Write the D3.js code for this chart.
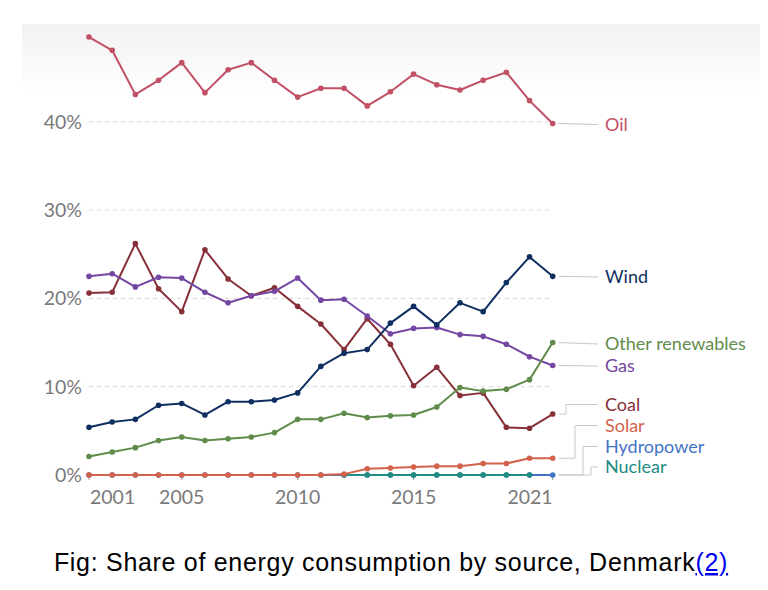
<!DOCTYPE html>
<html>
<head>
<meta charset="utf-8">
<script src="https://cdn.jsdelivr.net/npm/d3@7/dist/d3.min.js"></script>
<style>
  html, body { margin: 0; padding: 0; background: #fff; }
  svg { display: block; }
</style>
</head>
<body>
<svg id="chart" width="768" height="590"></svg>
<script>
const years = d3.range(2001, 2022);
const oil =   [49.6, 48.1, 43.1, 44.7, 46.7, 43.3, 45.9, 46.7, 44.7, 42.8, 43.8, 43.8, 41.8, 43.4, 45.4, 44.2, 43.6, 44.7, 45.6, 42.4, 39.8];
const wind =  [5.4, 6.0, 6.3, 7.9, 8.1, 6.8, 8.3, 8.3, 8.5, 9.3, 12.3, 13.8, 14.2, 17.2, 19.1, 17.0, 19.5, 18.5, 21.8, 24.7, 22.5];
const otherRenewables = [2.1, 2.6, 3.1, 3.9, 4.3, 3.9, 4.1, 4.3, 4.8, 6.3, 6.3, 7.0, 6.5, 6.7, 6.8, 7.7, 9.9, 9.5, 9.7, 10.8, 15.0];
const gas =   [22.5, 22.8, 21.3, 22.4, 22.3, 20.7, 19.5, 20.3, 20.8, 22.3, 19.8, 19.9, 18.0, 16.0, 16.6, 16.7, 15.9, 15.7, 14.8, 13.4, 12.4];
const coal =  [20.6, 20.7, 26.2, 21.1, 18.5, 25.5, 22.2, 20.3, 21.2, 19.1, 17.1, 14.2, 17.7, 14.8, 10.1, 12.2, 9.0, 9.3, 5.4, 5.3, 6.9];
const solar = [0, 0, 0, 0, 0, 0, 0, 0, 0, 0, 0, 0.1, 0.7, 0.8, 0.9, 1.0, 1.0, 1.3, 1.3, 1.9, 1.9];
const hydropower = [0, 0, 0, 0, 0, 0, 0, 0, 0, 0, 0, 0, 0, 0, 0, 0, 0, 0, 0, 0, 0];
const nuclear = [null, null, null, null, null, null, null, null, null, null, null, 0, 0, 0, 0, 0, 0, 0, 0, 0, null];

const yTicks = [0, 10, 20, 30, 40];
const xTicks = [2001, 2005, 2010, 2015, 2021];
const caption = "Fig: Share of energy consumption by source, Denmark";
const captionLink = "(2)";

// series: name, values, colour, label y (legend), connector step x
const series = [
  {name: "Hydropower", values: hydropower, color: "#3f74c6", labelY: 446.5, stepX: 583},
  {name: "Nuclear", values: nuclear, color: "#218c82", labelY: 467, stepX: 591},
  {name: "Solar", values: solar, color: "#d3624b", labelY: 425.5, stepX: 575},
  {name: "Coal", values: coal, color: "#883039", labelY: 404.5, stepX: 566},
  {name: "Gas", values: gas, color: "#7447a3", labelY: 366, stepX: null},
  {name: "Other renewables", values: otherRenewables, color: "#5f8c4a", labelY: 344, stepX: null},
  {name: "Wind", values: wind, color: "#0e2f60", labelY: 277, stepX: null},
  {name: "Oil", values: oil, color: "#c15065", labelY: 124.5, stepX: null}
];

const svg = d3.select("#chart");
const x = d3.scaleLinear().domain([2001, 2021]).range([89, 552.7]);
const y = d3.scaleLinear().domain([0, 50]).range([475, 33.5]);

// background gradient band
const defs = svg.append("defs");
const grad = defs.append("linearGradient").attr("id", "bg").attr("x1", 0).attr("y1", 0).attr("x2", 0).attr("y2", 1);
grad.append("stop").attr("offset", "0%").attr("stop-color", "#f2f2f2");
grad.append("stop").attr("offset", "100%").attr("stop-color", "#ffffff");
svg.append("rect").attr("x", 22).attr("y", 24).attr("width", 738).attr("height", 70).attr("fill", "url(#bg)");

// gridlines
svg.append("g").selectAll("line").data(yTicks.filter(d => d > 0)).join("line")
  .attr("x1", x(2001)).attr("x2", x(2021))
  .attr("y1", d => y(d)).attr("y2", d => y(d))
  .attr("stroke", "#d9d9d9").attr("stroke-width", 1).attr("stroke-dasharray", "4,4");

// baseline
svg.append("line").attr("x1", x(2001)).attr("x2", x(2021)).attr("y1", y(0)).attr("y2", y(0))
  .attr("stroke", "#bbb").attr("stroke-width", 1);

// y labels
svg.append("g").selectAll("text").data(yTicks).join("text")
  .attr("x", 82).attr("y", d => y(d)).attr("dy", "0.36em")
  .attr("text-anchor", "end")
  .attr("font-family", "Lato, sans-serif").attr("font-size", 19.5).attr("fill", "#7a7a7a")
  .text(d => d + "%");

// x ticks
svg.append("g").selectAll("line").data(xTicks).join("line")
  .attr("x1", d => x(d)).attr("x2", d => x(d)).attr("y1", y(0)).attr("y2", y(0) + 5)
  .attr("stroke", "#999").attr("stroke-width", 1);
svg.append("g").selectAll("text").data(xTicks).join("text")
  .attr("x", d => x(d) + (d === 2001 ? 1 : 0)).attr("y", 504)
  .attr("text-anchor", d => d === 2001 ? "start" : (d === 2021 ? "end" : "middle"))
  .attr("font-family", "Lato, sans-serif").attr("font-size", 19.5).attr("fill", "#7a7a7a")
  .text(d => d);

// lines
const line = d3.line().defined(d => d.v !== null).x(d => x(d.year)).y(d => y(d.v));
series.forEach(s => {
  const pts = years.map((yr, i) => ({year: yr, v: s.values[i]}));
  const g = svg.append("g");
  g.append("path").attr("d", line(pts)).attr("fill", "none")
    .attr("stroke", s.color).attr("stroke-width", 2).attr("stroke-linejoin", "round");
  g.selectAll("circle").data(pts.filter(d => d.v !== null)).join("circle")
    .attr("cx", d => x(d.year)).attr("cy", d => y(d.v)).attr("r", 2.8).attr("fill", s.color);
});

// legend labels + connectors
const labelX = 605;
series.forEach(s => {
  let lastIdx = s.values.length - 1;
  while (s.values[lastIdx] === null) lastIdx--;
  const ex = x(years[lastIdx]) + 6;
  const ey = y(s.values[lastIdx]);
  let pathD;
  if (s.stepX) {
    pathD = `M${x(2021) + 6},${ey}H${s.stepX}V${s.labelY}H${labelX - 7}`;
  } else {
    pathD = `M${ex},${ey}L${labelX - 7},${s.labelY}`;
  }
  svg.append("path").attr("d", pathD).attr("fill", "none").attr("stroke", "#c8c8c8").attr("stroke-width", 1);
  svg.append("text").attr("x", labelX).attr("y", s.labelY).attr("dy", "0.36em")
    .attr("font-family", "Lato, sans-serif").attr("font-size", 18).attr("fill", s.color)
    .text(s.name);
});

// caption
const cap = svg.append("text").attr("x", 391).attr("y", 571).attr("text-anchor", "middle")
  .attr("font-family", "Arial, 'Liberation Sans', sans-serif").attr("font-size", 25)
  .attr("letter-spacing", 0.7).attr("fill", "#000");
cap.append("tspan").text(caption);
cap.append("tspan").attr("fill", "#0000ee").attr("text-decoration", "underline").text(captionLink);
</script>
</body>
</html>
